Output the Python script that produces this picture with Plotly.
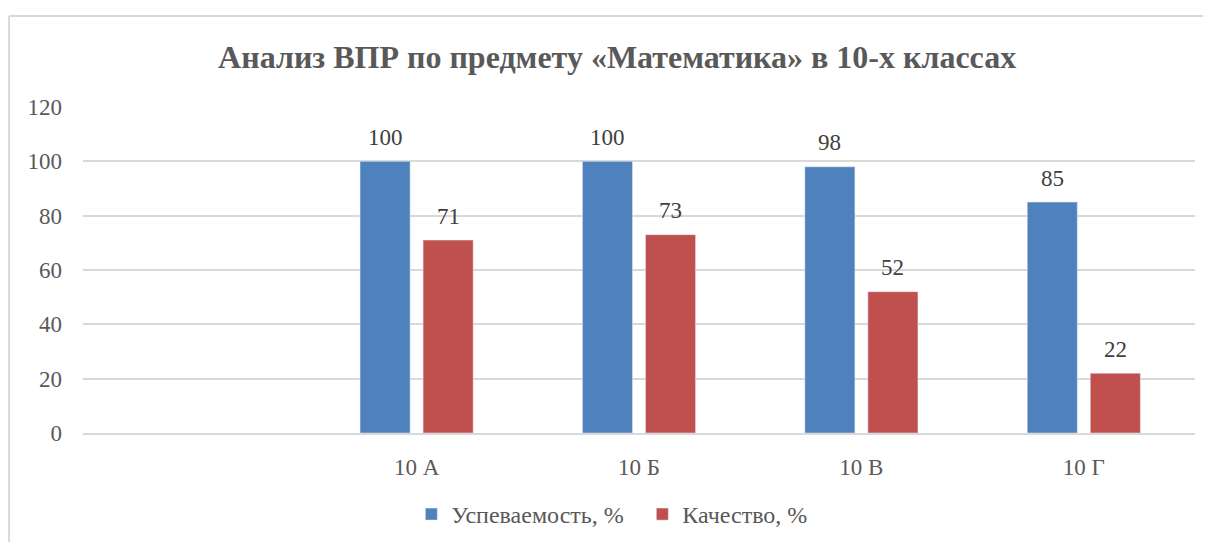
import plotly.graph_objects as go

categories = [" ", "10 А", "10 Б", "10 В", "10 Г"]
uspevaemost = [None, 100, 100, 98, 85]
kachestvo = [None, 71, 73, 52, 22]
y_ticks = [0, 20, 40, 60, 80, 100, 120]

font_family = "Liberation Serif"

fig = go.Figure()
fig.add_trace(go.Bar(x=categories, y=uspevaemost, name="Успеваемость, %",
                     marker=dict(color="#4F81BD")))
fig.add_trace(go.Bar(x=categories, y=kachestvo, name="Качество, %",
                     marker=dict(color="#C0504D")))

# data labels above each bar
annotations = []
for vals, shift in [(uspevaemost, -31.5), (kachestvo, 31.5)]:
    for cat, v in zip(categories, vals):
        if v is None:
            continue
        annotations.append(dict(
            x=cat, y=v, xref="x", yref="y", text=str(v), showarrow=False,
            xshift=shift, yshift=24, yanchor="middle",
            font=dict(family=font_family, size=23, color="#404040"),
        ))

# page body has an 8px margin, margins compensate for it
fig.update_layout(
    width=1211, height=542,
    paper_bgcolor="white", plot_bgcolor="white",
    margin=dict(l=75, r=24, t=99, b=117, autoexpand=False),
    font=dict(family=font_family, size=23, color="#595959"),
    title=dict(
        text="<b>Анализ ВПР по предмету «Математика» в 10-х классах</b>",
        x=0.503, xanchor="center", y=0.91, yanchor="middle",
        font=dict(family=font_family, size=32, color="#595959"),
    ),
    barmode="group", bargap=0.433, bargroupgap=0.206,
    showlegend=True,
    legend=dict(
        orientation="h", x=0.503, xanchor="center", y=-0.25, yanchor="middle",
        font=dict(family=font_family, size=24, color="#595959"),
        itemwidth=30, entrywidth=186, entrywidthmode="pixels",
    ),
    annotations=annotations,
    shapes=[
        dict(type="line", xref="paper", yref="paper", x0=-0.0665, x1=1.03,
             y0=1.279, y1=1.279, line=dict(color="#D9D9D9", width=2)),
        dict(type="line", xref="paper", yref="paper", x0=-0.0665, x1=-0.0665,
             y0=1.279, y1=-0.4, line=dict(color="#D9D9D9", width=2)),
    ],
)

fig.update_xaxes(
    type="category", showgrid=False, showline=True, linecolor="#D9D9D9", linewidth=2,
    ticks="", automargin=False, ticklabelstandoff=12,
    tickfont=dict(family=font_family, size=23, color="#595959"),
)
fig.update_yaxes(
    range=[0, 120], tickvals=y_ticks, showgrid=True, gridcolor="#D9D9D9", gridwidth=2,
    zeroline=False, showline=False, ticks="", ticklabelstandoff=20, automargin=False,
    tickfont=dict(family=font_family, size=23, color="#595959"),
)

fig.write_html("out.html")
